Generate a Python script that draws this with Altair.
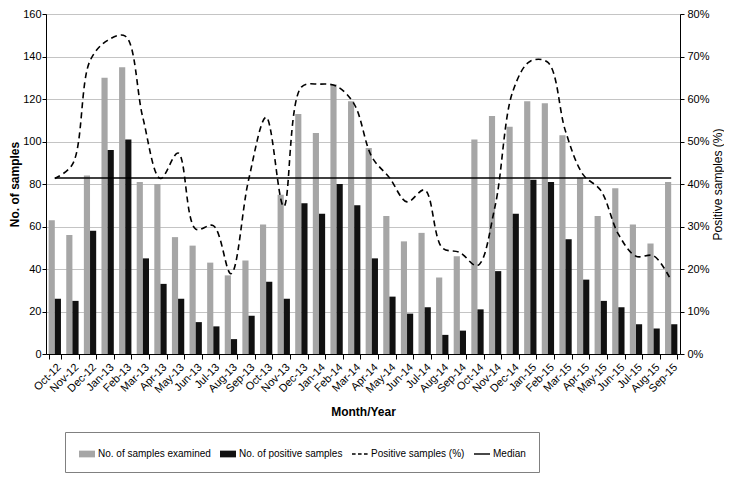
import altair as alt
import pandas as pd

months = ["Oct-12", "Nov-12", "Dec-12", "Jan-13", "Feb-13", "Mar-13", "Apr-13", "May-13",
          "Jun-13", "Jul-13", "Aug-13", "Sep-13", "Oct-13", "Nov-13", "Dec-13", "Jan-14",
          "Feb-14", "Mar-14", "Apr-14", "May-14", "Jun-14", "Jul-14", "Aug-14", "Sep-14",
          "Oct-14", "Nov-14", "Dec-14", "Jan-15", "Feb-15", "Mar-15", "Apr-15", "May-15",
          "Jun-15", "Jul-15", "Aug-15", "Sep-15"]
examined = [63, 56, 84, 130, 135, 81, 80, 55, 51, 43, 37, 44, 61, 75, 113, 104,
            127, 119, 97, 65, 53, 57, 36, 46, 101, 112, 107, 119, 118, 103, 83, 65,
            78, 61, 52, 81]
positive = [26, 25, 58, 96, 101, 45, 33, 26, 15, 13, 7, 18, 34, 26, 71, 66,
            80, 70, 45, 27, 19, 22, 9, 11, 21, 39, 66, 82, 81, 54, 35, 25,
            22, 14, 12, 14]
pct = [41.3, 44.6, 69.0, 73.8, 74.8, 55.6, 41.3, 47.3, 29.4, 30.2, 18.9, 40.9,
       55.7, 34.7, 62.8, 63.5, 63.0, 58.8, 46.4, 41.5, 35.8, 38.6, 25.0, 23.9,
       20.8, 34.8, 61.7, 68.9, 68.6, 52.4, 42.2, 38.5, 28.2, 23.0, 23.1, 17.3]
median_pct = 41.4

series = ["No. of samples examined", "No. of positive samples", "Positive samples (%)", "Median"]
series_colors = ["#a6a6a6", "#111111", "#000000", "#000000"]
series_shapes = [
    "M-1,-0.42H1V0.42H-1Z",
    "M-1,-0.42H1V0.42H-1Z",
    "M-1,-0.09H-0.55V0.09H-1Z M-0.25,-0.09H0.2V0.09H-0.25Z M0.5,-0.09H0.95V0.09H0.5Z",
    "M-1,-0.09H1V0.09H-1Z",
]

FONT = "Liberation Sans, Arial"

gray_df = pd.DataFrame({"month": months, "series": series[0], "value": examined})
black_df = pd.DataFrame({"month": months, "series": series[1], "value": positive})
line_df = pd.DataFrame({"month": months, "pct": pct, "median": [median_pct] * len(months)})
legend_df = pd.DataFrame({"series": series})

x_enc = alt.X(
    "month:N", sort=months,
    scale=alt.Scale(domain=months, paddingInner=0.3, paddingOuter=0.15),
    axis=alt.Axis(title="Month/Year", labelAngle=-45, tickBand="extent", tickSize=5,
                  domainColor="#000000", tickColor="#000000", labelFontSize=11,
                  titleFontSize=12, titleFontWeight="bold", titlePadding=12,
                  labelPadding=2, grid=False),
)
xoff = alt.XOffset("series:N", scale=alt.Scale(domain=series[:2], paddingInner=0, paddingOuter=0))
y_left = alt.Y(
    "value:Q",
    scale=alt.Scale(domain=[0, 160], nice=False),
    axis=alt.Axis(title="No. of samples", values=list(range(0, 161, 20)), grid=True,
                  gridColor="#c4c4c4", domainColor="#000000", tickColor="#000000",
                  tickSize=4, labelFontSize=11, titleFontSize=12, titleFontWeight="bold",
                  titlePadding=1, labelPadding=1),
)

gray = alt.Chart(gray_df).mark_bar(color="#a6a6a6").encode(x=x_enc, xOffset=xoff, y=y_left)
black = alt.Chart(black_df).mark_bar(color="#111111").encode(x=x_enc, xOffset=xoff, y="value:Q")

legend_pts = alt.Chart(legend_df).mark_point(filled=True, opacity=1, size=256, clip=True).encode(
    x=alt.value(-200), y=alt.value(-200),
    color=alt.Color("series:N", scale=alt.Scale(domain=series, range=series_colors),
                    legend=alt.Legend(orient="none", legendX=19, legendY=418,
                                      direction="horizontal", columns=4, title=None,
                                      strokeColor="#808080", fillColor="#ffffff",
                                      padding=13, columnPadding=8, symbolSize=256,
                                      labelFontSize=10, labelOffset=2)),
    shape=alt.Shape("series:N", scale=alt.Scale(domain=series, range=series_shapes)),
)

left = alt.layer(gray, black, legend_pts)

y_right = alt.Y(
    "pct:Q",
    scale=alt.Scale(domain=[0, 80], nice=False),
    axis=alt.Axis(title="Positive samples (%)", orient="right", values=list(range(0, 81, 10)),
                  labelExpr="datum.value + '%'", grid=False, domainColor="#000000",
                  tickColor="#000000", tickSize=4, labelFontSize=11, titleFontSize=12,
                  titleFontWeight="normal", titleAngle=270, titleBaseline="top",
                  titlePadding=3, labelPadding=3),
)

pct_line = alt.Chart(line_df).mark_line(color="#000000", strokeDash=[6, 4], strokeWidth=1.6,
                                        interpolate="catmull-rom").encode(x=x_enc, y=y_right)
med_line = alt.Chart(line_df).mark_line(color="#000000", strokeWidth=1.6).encode(
    x=x_enc, y="median:Q")

right = alt.layer(pct_line, med_line)

chart = alt.layer(left, right).resolve_scale(y="independent").properties(
    width=634, height=340, padding={"top": 0, "left": 0, "right": 0, "bottom": 0}
).configure(font=FONT).configure_view(stroke="#808080", strokeWidth=1).configure_axis(
    labelFont=FONT, titleFont=FONT, labelColor="#000000", titleColor="#000000"
).configure_legend(labelFont=FONT, labelColor="#000000")

chart.save("out.html", embed_options={"renderer": "svg", "actions": False})
